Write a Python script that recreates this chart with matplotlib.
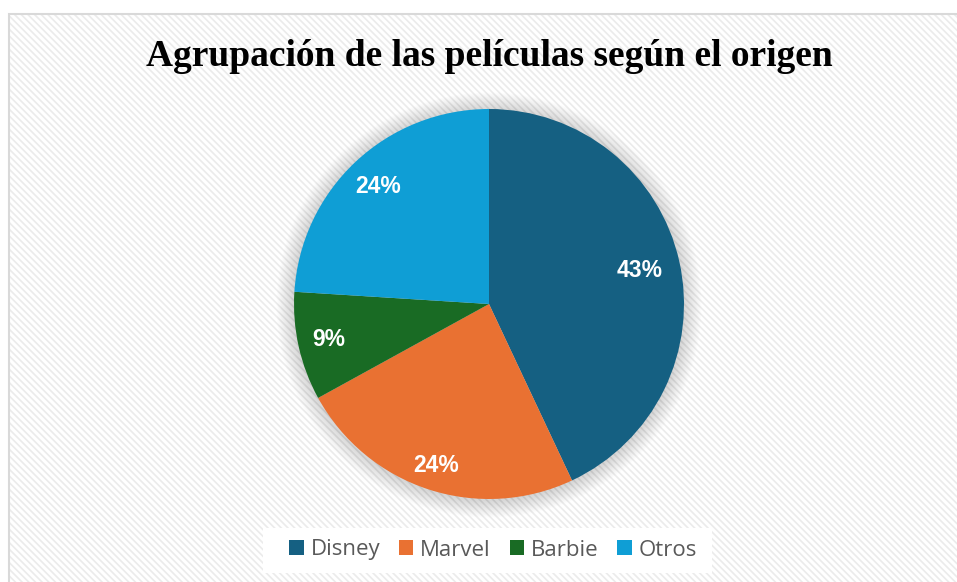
import matplotlib
matplotlib.use("Agg")
import matplotlib.pyplot as plt
import matplotlib.patches as mpatches
import numpy as np

categories = ["Disney", "Marvel", "Barbie", "Otros"]
values = [43, 24, 9, 24]
pct_labels = ["43%", "24%", "9%", "24%"]
colors = ["#156082", "#E97132", "#196B24", "#0F9ED5"]
label_radii = [0.79, 0.87, 0.84, 0.83]
title = "Agrupación de las películas según el origen"

plt.rcParams['hatch.linewidth'] = 1.2

W, H = 957, 582
fig = plt.figure(figsize=(W / 100, H / 100), dpi=100)
fig.patch.set_facecolor("white")

# hatched background with border
bg = mpatches.Rectangle((8 / W, 0), 1.0, 1 - 13 / H, transform=fig.transFigure,
                        facecolor="white", edgecolor="#EBEBEB", hatch="\\\\\\\\\\",
                        linewidth=0, zorder=-2)
fig.patches.append(bg)
border = mpatches.Rectangle((8.5 / W, -0.01), 1.0, 1 - 13.5 / H + 0.01, transform=fig.transFigure,
                            facecolor="none", edgecolor="#D9D9D9", linewidth=1.5, zorder=-1)
fig.patches.append(border)

# pie axes
cx, cy, R = 489, 304, 195
ax = fig.add_axes([(cx - R) / W, (H - cy - R) / H, 2 * R / W, 2 * R / H])
ax.set_xlim(-1, 1)
ax.set_ylim(-1, 1)
ax.set_aspect("equal")
ax.axis("off")
ax.patch.set_alpha(0)
ax.set_zorder(1)

# soft shadow
for i in range(20):
    ax.add_patch(mpatches.Circle((0, -0.005), 1.0 + 0.0045 * (i + 1), facecolor="#000000",
                                 alpha=0.009, edgecolor="none", zorder=1, clip_on=False))

wedges, _ = ax.pie(values, colors=colors, startangle=90, counterclock=False, radius=1.0,
                   wedgeprops=dict(linewidth=0))
for w in wedges:
    w.set_zorder(3)
ax.set_xlim(-1, 1)
ax.set_ylim(-1, 1)

for w, lab, r in zip(wedges, pct_labels, label_radii):
    ang = np.deg2rad((w.theta1 + w.theta2) / 2)
    ax.text(r * np.cos(ang), r * np.sin(ang), lab, ha="center", va="center",
            color="white", fontsize=16.5, fontweight="bold", family="Liberation Sans", zorder=5)

fig.text(489 / W, 1 - 56 / H, title, ha="center", va="center", fontsize=27,
         fontweight="bold", family="Liberation Serif", color="black")

# legend
box = mpatches.Rectangle((263 / W, 1 - 573 / H), (712 - 263) / W, 45 / H, transform=fig.transFigure,
                         facecolor="white", edgecolor="none", zorder=2)
fig.patches.append(box)
handles = [mpatches.Patch(facecolor=c, edgecolor="none") for c in colors]
leg = fig.legend(handles, categories, loc="center", bbox_to_anchor=(493 / W, 1 - 550 / H),
                 ncol=4, frameon=False, handlelength=0.65, handleheight=0.65,
                 handletextpad=0.3, columnspacing=0.85,
                 prop=dict(family="Open Sans", size=16))
leg.set_zorder(5)
for t in leg.get_texts():
    t.set_color("#595959")

fig.savefig("out.png", dpi=100, facecolor="white")
